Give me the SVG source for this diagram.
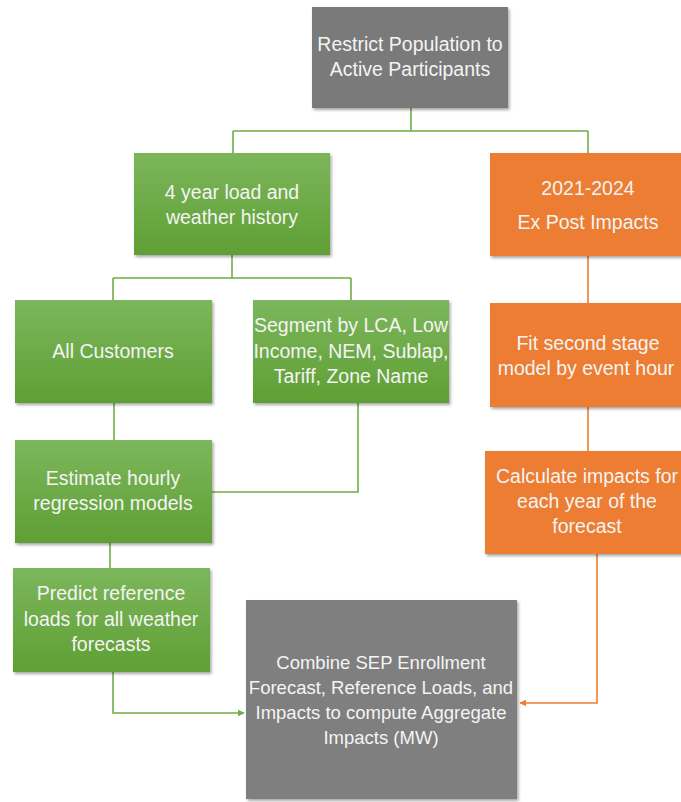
<svg xmlns="http://www.w3.org/2000/svg" width="681" height="802" viewBox="0 0 681 802">
<defs>
<linearGradient id="gg" x1="0" y1="0" x2="0" y2="1">
<stop offset="0" stop-color="#7cb65c"/>
<stop offset="1" stop-color="#5f9f34"/>
</linearGradient>
<filter id="sh" x="-10%" y="-10%" width="125%" height="125%">
<feDropShadow dx="1.5" dy="2" stdDeviation="1.5" flood-color="#000" flood-opacity="0.35"/>
</filter>
<marker id="ag" viewBox="0 0 10 10" refX="9" refY="5" markerWidth="7" markerHeight="7" markerUnits="userSpaceOnUse" orient="auto">
<path d="M0,0 L10,5 L0,10 z" fill="#70AD47"/>
</marker>
<marker id="ao" viewBox="0 0 10 10" refX="9" refY="5" markerWidth="7" markerHeight="7" markerUnits="userSpaceOnUse" orient="auto">
<path d="M0,0 L10,5 L0,10 z" fill="#ED7D31"/>
</marker>
</defs>
<style>
.t{font-family:"Liberation Sans",Arial,sans-serif;font-size:19.5px;fill:#f4f4f4;text-anchor:middle;dominant-baseline:central}
.c{font-size:18.5px}
.gray{fill:#7a7a7a;filter:url(#sh)}
.green{fill:url(#gg);filter:url(#sh)}
.orange{fill:#ED7D31;filter:url(#sh)}
.lg{fill:none;stroke:#70AD47;stroke-width:1.6}
.lo{fill:none;stroke:#ED7D31;stroke-width:1.6}
</style>
<rect width="681" height="802" fill="#ffffff"/>
<g id="connectors">
<path class="lg" d="M411,108 V131 M233,131 H588 M233,131 V153 M588,131 V153"/>
<path class="lg" d="M232,255 V278 M113,278 H351 M113,278 V300 M351,278 V300"/>
<path class="lg" d="M114,403 V440"/>
<path class="lg" d="M358,403 V492 H212"/>
<path class="lg" d="M110,543 V568"/>
<path class="lg" d="M113,672 V713 H244" marker-end="url(#ag)"/>
<path class="lo" d="M588,256 V303 M588,407 V451"/>
<path class="lo" d="M597,554 V703 H520" marker-end="url(#ao)"/>
</g>
<g id="n_restrict">
<rect class="gray" x="312" y="7" width="196" height="101"/>
<text class="t" x="410" y="44">Restrict Population to</text>
<text class="t" x="410" y="69">Active Participants</text>
</g>
<g id="n_history">
<rect class="green" x="134" y="153" width="196" height="102"/>
<text class="t" x="232" y="192">4 year load and</text>
<text class="t" x="232" y="217">weather history</text>
</g>
<g id="n_expost">
<rect class="orange" x="490" y="153" width="200" height="103"/>
<text class="t" x="588" y="188">2021-2024</text>
<text class="t" x="588" y="222">Ex Post Impacts</text>
</g>
<g id="n_all">
<rect class="green" x="15" y="300" width="197" height="103"/>
<text class="t" x="113" y="351">All Customers</text>
</g>
<g id="n_segment">
<rect class="green" x="253" y="300" width="196" height="103"/>
<text class="t" x="351" y="325">Segment by LCA, Low</text>
<text class="t" x="351" y="351">Income, NEM, Sublap,</text>
<text class="t" x="351" y="376">Tariff, Zone Name</text>
</g>
<g id="n_fit">
<rect class="orange" x="490" y="303" width="200" height="104"/>
<text class="t" x="588" y="343">Fit second stage</text>
<text class="t" x="586" y="368">model by event hour</text>
</g>
<g id="n_estimate">
<rect class="green" x="15" y="440" width="197" height="103"/>
<text class="t" x="113" y="478">Estimate hourly</text>
<text class="t" x="113" y="503">regression models</text>
</g>
<g id="n_calc">
<rect class="orange" x="485" y="451" width="205" height="103"/>
<text class="t" x="587" y="476">Calculate impacts for</text>
<text class="t" x="587" y="501">each year of the</text>
<text class="t" x="587" y="526">forecast</text>
</g>
<g id="n_predict">
<rect class="green" x="13" y="568" width="197" height="104"/>
<text class="t" x="111" y="593">Predict reference</text>
<text class="t" x="111" y="619">loads for all weather</text>
<text class="t" x="111" y="644">forecasts</text>
</g>
<g id="n_combine">
<rect class="gray" x="246" y="600" width="271" height="199" style="fill:#7f7f7f"/>
<text class="t c" x="381" y="662">Combine SEP Enrollment</text>
<text class="t c" x="381" y="687">Forecast, Reference Loads, and</text>
<text class="t c" x="381" y="712">Impacts to compute Aggregate</text>
<text class="t c" x="381" y="737">Impacts (MW)</text>
</g>
</svg>
